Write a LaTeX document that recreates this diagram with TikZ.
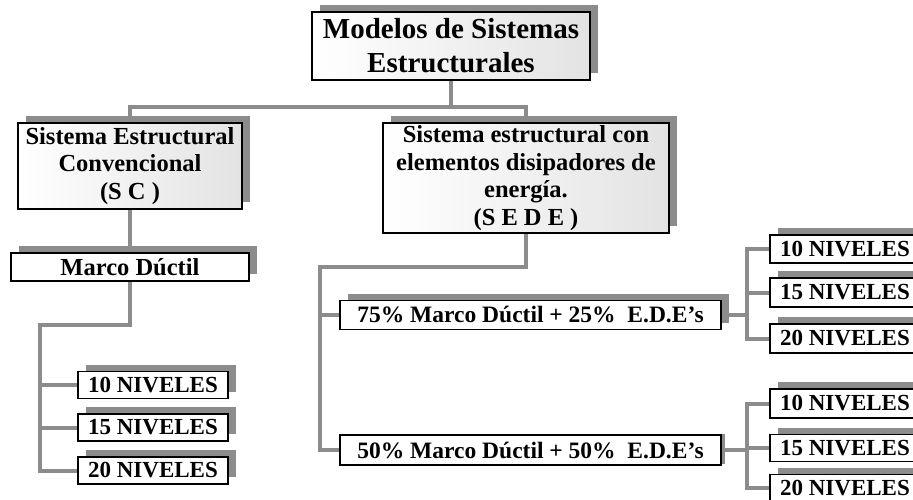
\documentclass[tikz,border=0pt]{standalone}
\usepackage{fontspec}
\setmainfont{Liberation Serif}
\usetikzlibrary{shadows,backgrounds}
\definecolor{lnk}{RGB}{140,140,140}

\begin{document}
\begin{tikzpicture}[x=1pt,y=-1pt,
    box/.style={draw=black,line width=1.1pt,fill=white,inner sep=0pt,align=center,
        font=\bfseries\fontsize{24.5}{27.5}\selectfont},
    main node/.style={box,drop shadow={shadow xshift=8pt,shadow yshift=7pt,fill=lnk,opacity=1}},
    low node/.style={box,drop shadow={shadow xshift=4pt,shadow yshift=1pt,fill=lnk,opacity=1}},
    big node/.style={main node,left color=white,right color=gray!22},
    level node/.style={main node,minimum width=150pt,minimum height=27pt,
        font=\bfseries\fontsize{23}{27}\selectfont},
    mix node/.style={minimum width=381pt,minimum height=29pt,
        font=\bfseries\fontsize{23.5}{27}\selectfont},
    link/.style={draw=lnk,line width=4pt,line cap=rect},
    vh path/.style={to path={|- (\tikztotarget)}},
    hv path/.style={to path={-| (\tikztotarget)}}]

        \clip (0,0) rectangle (913,500);

        % Define vertices
        \node[big node,minimum width=278pt,minimum height=68pt,
              font=\bfseries\fontsize{29}{34}\selectfont] (modelos) at (451,46) {Modelos de Sistemas\\Estructurales};
        \node[big node,minimum width=224pt,minimum height=86pt] (sc) at (130,166) {Sistema Estructural\\Convencional\\(S C )};
        \node[big node,minimum width=286pt,minimum height=110pt] (sede) at (526,178) {Sistema estructural con\\elementos disipadores de\\energía.\\(S E D E )};
        \node[main node,minimum width=238pt,minimum height=28pt] (marco) at (130,267) {Marco Dúctil};

        \node[level node] (mn10) at (153,385) {10 NIVELES};
        \node[level node] (mn15) at (153,427.5) {15 NIVELES};
        \node[level node] (mn20) at (153,470.5) {20 NIVELES};

        \node[main node,mix node] (p75) at (530.5,315) {75\% Marco Dúctil + 25\%~~E.D.E’s};
        \node[low node,mix node,minimum height=30pt] (p50) at (530.5,450) {50\% Marco Dúctil + 50\%~~E.D.E’s};

        \node[level node,minimum height=28pt] (a10) at (845,249) {10 NIVELES};
        \node[level node,minimum height=29pt] (a15) at (845,292.5) {15 NIVELES};
        \node[level node,minimum height=29pt] (a20) at (845,338.5) {20 NIVELES};

        \node[level node,minimum height=29pt] (b10) at (845,403.5) {10 NIVELES};
        \node[level node,minimum height=27pt] (b15) at (845,448) {15 NIVELES};
        \node[level node,minimum height=27pt] (b20) at (845,488) {20 NIVELES};

        % Junctions
        \coordinate (j1) at (451,107);
        \coordinate (j2) at (40,325);
        \coordinate (j3) at (320,267);
        \coordinate (j4) at (747,315);
        \coordinate (j5) at (747,450);

        % Draw edges
        \begin{scope}[on background layer]
        \path[link]
            (modelos) edge (j1)
            (j1) edge[hv path] (sc)
            (j1) edge[hv path] (sede)
            (sc) edge (marco)
            (marco) edge[vh path] (j2)
            (j2) edge[vh path] (mn10)
            (j2) edge[vh path] (mn15)
            (j2) edge[vh path] (mn20)
            (sede) edge[vh path] (j3)
            (j3) edge[vh path] (p75)
            (j3) edge[vh path] (p50)
            (p75) edge (j4)
            (j4) edge[vh path] (a10)
            (j4) edge[vh path] (a15)
            (j4) edge[vh path] (a20)
            (p50) edge (j5)
            (j5) edge[vh path] (b10)
            (j5) edge[vh path] (b15)
            (j5) edge[vh path] (b20);
        \end{scope}

        \end{tikzpicture}
\end{document}
